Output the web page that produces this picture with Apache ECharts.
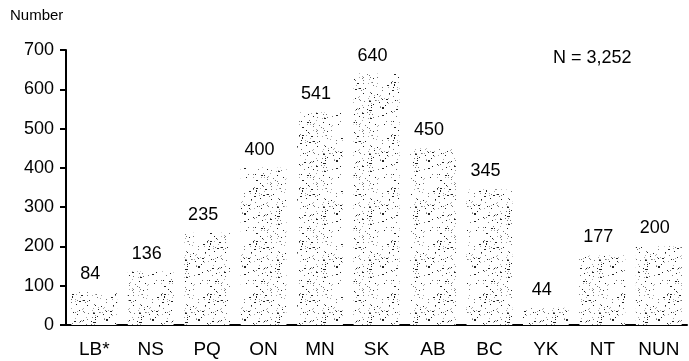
<!DOCTYPE html>
<html>
<head>
<meta charset="utf-8">
<script src="https://cdn.jsdelivr.net/npm/echarts@6/dist/echarts.min.js"></script>
<style>html,body{margin:0;padding:0;background:#fff}#c{width:689px;height:361px}</style>
</head>
<body>
<div id="c"></div>
<script>
var categories = ['LB*', 'NS', 'PQ', 'ON', 'MN', 'SK', 'AB', 'BC', 'YK', 'NT', 'NUN'];
var values = [84, 136, 235, 400, 541, 640, 450, 345, 44, 177, 200];
var yTicks = [0, 100, 200, 300, 400, 500, 600, 700];
var yAxisTitle = 'Number';
var totalNote = 'N = 3,252';

// deterministic stipple texture (styling only)
function makePattern(density) {
  var c = document.createElement('canvas');
  c.width = 46; c.height = 53;
  var ctx = c.getContext('2d');
  ctx.fillStyle = '#ffffff';
  ctx.fillRect(0, 0, 46, 53);
  var s = 98765;
  function nxt() { s = (s * 1103515245 + 12345) % 2147483648; return s / 2147483648; }
  for (var i = 0; i < density; i++) {
    var x = Math.floor(nxt() * 46), y = Math.floor(nxt() * 53);
    var g = nxt();
    ctx.fillStyle = g < 0.35 ? '#222' : (g < 0.7 ? '#777' : '#aaa');
    ctx.fillRect(x, y, g < 0.15 ? 2 : 1, 1);
  }
  return c;
}
var pat = makePattern(150);

var FONT = '"Liberation Sans", Arial';
var chart = echarts.init(document.getElementById('c'));
chart.setOption({
  animation: false,
  grid: { left: 66, right: 2, top: 50, bottom: 36 },
  graphic: [
    { type: 'text', left: 10, top: 8, style: { text: yAxisTitle, font: '15px ' + FONT, fill: '#000' } },
    { type: 'text', left: 553, top: 49, style: { text: totalNote, font: '18px ' + FONT, fill: '#000' } }
  ],
  xAxis: {
    type: 'category',
    data: categories,
    axisLine: { lineStyle: { color: '#000', width: 2 } },
    axisTick: { show: false },
    axisLabel: { color: '#000', fontSize: 19, fontFamily: FONT, margin: 15 }
  },
  yAxis: {
    type: 'value',
    min: yTicks[0],
    max: yTicks[yTicks.length - 1],
    interval: 100,
    splitLine: { show: false },
    axisLine: { show: true, lineStyle: { color: '#000', width: 2 } },
    axisTick: { show: true, length: 6, lineStyle: { color: '#000', width: 2 } },
    axisLabel: { color: '#000', fontSize: 18, fontFamily: FONT, margin: 12 }
  },
  series: [{
    type: 'bar',
    data: values,
    barCategoryGap: '19%',
    itemStyle: { color: { image: pat, repeat: 'repeat' } },
    label: {
      show: true, position: 'top', distance: 9, offset: [-4, 0],
      color: '#000', fontSize: 18, fontFamily: FONT
    }
  }]
});
</script>
</body>
</html>
